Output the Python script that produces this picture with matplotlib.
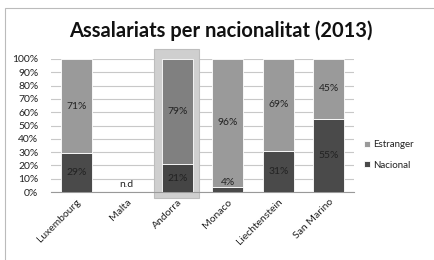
import numpy as np
import matplotlib.pyplot as plt
import matplotlib.transforms as mtransforms
from matplotlib.patches import Rectangle

# data
countries = ['Luxembourg', 'Malta', 'Andorra', 'Monaco', 'Liechtenstein', 'San Marino']
nacional = [29, np.nan, 21, 4, 31, 55]
estranger = [71, np.nan, 79, 96, 69, 45]
yticks = [0, 10, 20, 30, 40, 50, 60, 70, 80, 90, 100]
highlight = 'Andorra'

plt.rcParams['font.family'] = ['Lato', 'DejaVu Sans']

fig = plt.figure(figsize=(4.35, 2.6), dpi=100, facecolor='w')
ax = fig.add_axes([51/435, 1 - 192/260, (354 - 51)/435, (192 - 59)/260])

x = np.arange(len(countries))
nac = np.nan_to_num(np.array(nacional, dtype=float))
est = np.nan_to_num(np.array(estranger, dtype=float))
w = 0.61
hi = countries.index(highlight)
est_col = ['#808080' if i == hi else '#9a9a9a' for i in range(len(countries))]
nac_col = ['#454545' if i == hi else '#4a4a4a' for i in range(len(countries))]
ax.bar(x, nac, w, color=nac_col, label='Nacional', zorder=3, edgecolor='white', linewidth=0.6)
ax.bar(x, est, w, bottom=nac, color=est_col, label='Estranger', zorder=3, edgecolor='white', linewidth=0.6)
ax.patches[0].set_facecolor('#4a4a4a')

for i in range(len(countries)):
    if np.isnan(nacional[i]):
        ax.text(x[i], 2, 'n.d', ha='center', va='bottom', fontsize=7.5, color='#222222')
        continue
    yn = nac[i] / 2 if nac[i] > 8 else nac[i] + 3
    ax.text(x[i], yn, '%d%%' % nacional[i], ha='center', va='center', fontsize=7.5, color='#222222', zorder=4)
    ax.text(x[i], nac[i] + est[i] / 2, '%d%%' % estranger[i], ha='center', va='center', fontsize=7.5, color='#222222', zorder=4)

# highlight box behind Andorra
hl = Rectangle((hi - 0.47, -4.5), 0.9, 112, facecolor='#cfcfcf', edgecolor='#bdbdbd', lw=0.8,
               clip_on=False, zorder=2)
ax.add_patch(hl)

ax.set_xlim(-0.5, len(countries) - 0.5)
ax.set_ylim(0, 100)
ax.set_yticks(yticks)
ax.set_yticklabels(['%d%%' % v for v in yticks], fontsize=7.5)
ax.set_xticks(x)
ax.set_xticklabels(countries, rotation=45, ha='right', rotation_mode='anchor', fontsize=7.5)
off = mtransforms.ScaledTranslation(8/100, -5/100, fig.dpi_scale_trans)
for lab in ax.get_xticklabels():
    lab.set_transform(lab.get_transform() + off)
ax.tick_params(axis='both', length=0, colors='#222222')
ax.tick_params(axis='y', pad=9)
ax.tick_params(axis='x', pad=4)
ax.grid(axis='y', color='#c8c8c8', lw=0.8, zorder=0)
ax.set_axisbelow(True)
for s in ('top', 'right', 'left'):
    ax.spines[s].set_visible(False)
ax.spines['bottom'].set_color('#999999')

h, l = ax.get_legend_handles_labels()
leg = fig.legend(h[::-1], l[::-1], loc='center left', bbox_to_anchor=(355/435, 1 - 155/260),
                 frameon=False, fontsize=7, handlelength=0.6, handleheight=0.6, handletextpad=0.4,
                 labelspacing=1.2, labelcolor='#222222')
leg.legend_handles[0].set_facecolor('#9a9a9a')
leg.legend_handles[1].set_facecolor('#4a4a4a')

fig.text(221/435, 1 - 31/260, 'Assalariats per nacionalitat (2013)', ha='center', va='center',
         fontsize=14.5, fontweight='bold', color='#111111')

# outer border
fig.patches.append(Rectangle((5/435, -0.1), 1, 1 - 8/260 + 0.1, transform=fig.transFigure,
                             fill=False, edgecolor='#bbbbbb', lw=0.8))

fig.savefig('out.png', dpi=100)
